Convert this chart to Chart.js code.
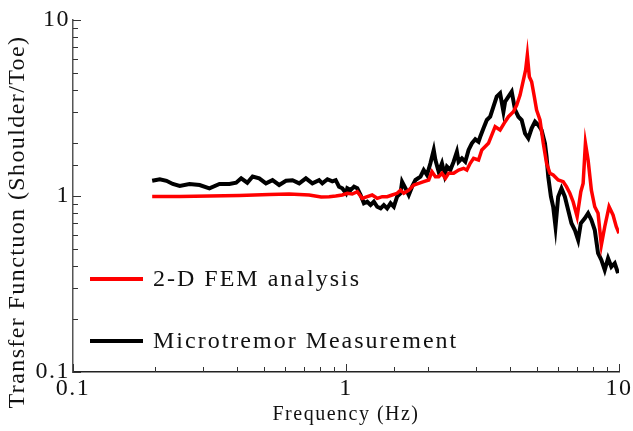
<!DOCTYPE html>
<html>
<head>
<meta charset="utf-8">
<script src="https://cdn.jsdelivr.net/npm/chart.js@4.4.1/dist/chart.umd.min.js"></script>
<style>
  html, body { margin: 0; padding: 0; background: #fff; }
  #wrap { width: 633px; height: 431px; }
</style>
</head>
<body>
<div id="wrap"><canvas id="myChart" width="633" height="431"></canvas></div>
<script>
const seriesNames = ['2-D FEM analysis', 'Microtremor Measurement'];
const majorTicks = [0.1, 1, 10];
const xTitle = 'Frequency (Hz)';
const yTitle = 'Transfer Functuon (Shoulder/Toe)';

// 2-D FEM analysis (red)
const freqFem = [0.195, 0.246, 0.316, 0.407, 0.524, 0.619, 0.733, 0.811, 0.867, 0.917, 0.969, 1.011, 1.054, 1.10,
  1.147, 1.196, 1.247, 1.301, 1.357, 1.415, 1.476, 1.539, 1.584, 1.628, 1.698, 1.771, 1.847, 1.926, 2.009,
  2.065, 2.126, 2.185, 2.246, 2.312, 2.376, 2.479, 2.585, 2.696, 2.771, 2.851, 2.933, 3.058, 3.144, 3.325,
  3.518, 3.669, 3.827, 3.935, 4.104, 4.220, 4.341, 4.464, 4.550, 4.616, 4.694, 4.786, 4.896, 4.991, 5.135,
  5.280, 5.429, 5.586, 5.741, 5.988, 6.245, 6.421, 6.607, 6.792, 7.025, 7.247, 7.389, 7.534, 7.706, 7.922,
  8.151, 8.381, 8.617, 8.867, 9.195, 9.508, 9.775, 10.0];
const tfFem = [0.994, 0.994, 1.0, 1.007, 1.02, 1.026, 1.013, 0.987, 0.991, 1.0, 1.013, 1.036, 1.026, 1.058,
  0.970, 0.991, 1.013, 0.970, 0.991, 0.991, 1.013, 1.036, 1.08, 1.036, 1.08, 1.155, 1.18, 1.206, 1.233,
  1.374, 1.287, 1.287, 1.346, 1.26, 1.346, 1.346, 1.405, 1.437, 1.405, 1.534, 1.637, 1.602, 1.826, 1.993,
  2.476, 2.371, 2.643, 2.822, 3.013, 3.289, 3.748, 4.561, 5.199, 6.325, 4.763, 4.461, 3.666, 3.081, 2.703,
  1.993, 1.534, 1.346, 1.316, 1.233, 1.206, 1.13, 1.036, 0.928, 0.763, 1.058, 1.18, 1.993, 1.602, 1.08,
  0.869, 0.798, 0.527, 0.669, 0.869, 0.78, 0.669, 0.614];

// Microtremor Measurement (black)
const freqMic = [0.195, 0.208, 0.220, 0.232, 0.246, 0.267, 0.291, 0.316, 0.344, 0.374, 0.396, 0.413, 0.435, 0.455,
  0.481, 0.509, 0.538, 0.569, 0.603, 0.637, 0.674, 0.713, 0.753, 0.797, 0.819, 0.855, 0.891, 0.917, 0.943,
  0.969, 1.0, 1.011, 1.040, 1.070, 1.10, 1.131, 1.163, 1.196, 1.230, 1.265, 1.301, 1.339, 1.376, 1.415,
  1.456, 1.497, 1.539, 1.584, 1.605, 1.652, 1.698, 1.746, 1.797, 1.874, 1.926, 1.980, 2.038, 2.096, 2.126,
  2.185, 2.246, 2.298, 2.343, 2.411, 2.479, 2.548, 2.585, 2.658, 2.735, 2.812, 2.891, 2.975, 3.058, 3.102,
  3.189, 3.280, 3.374, 3.468, 3.566, 3.669, 3.773, 3.827, 3.935, 4.046, 4.163, 4.280, 4.400, 4.527, 4.654,
  4.786, 4.924, 5.063, 5.204, 5.355, 5.429, 5.506, 5.632, 5.741, 5.854, 5.988, 6.156, 6.334, 6.513, 6.696,
  6.89, 7.085, 7.247, 7.495, 7.706, 7.922, 8.151, 8.381, 8.617, 8.867, 9.118, 9.374, 9.645, 9.917];
const tfMic = [1.22, 1.245, 1.22, 1.17, 1.14, 1.17, 1.155, 1.106, 1.17, 1.17, 1.19, 1.26, 1.19, 1.29,
  1.26, 1.18, 1.23, 1.155, 1.22, 1.23, 1.18, 1.26, 1.18, 1.23, 1.18, 1.245, 1.21, 1.23, 1.13,
  1.106, 1.036, 1.106, 1.08, 1.13, 1.106, 1.013, 0.909, 0.928, 0.889, 0.928, 0.869, 0.851, 0.889, 0.851,
  0.909, 0.869, 0.991, 1.036, 1.206, 1.106, 1.013, 1.13, 1.233, 1.287, 1.405, 1.316, 1.534, 1.826, 1.602,
  1.374, 1.534, 1.316, 1.468, 1.405, 1.566, 1.785, 1.566, 1.637, 1.566, 1.826, 1.993, 2.10, 2.035, 2.17,
  2.425, 2.703, 2.822, 3.217, 3.666, 3.832, 3.013, 3.435, 3.666, 3.914, 3.081, 2.822, 2.703, 2.27, 2.128,
  2.425, 2.643, 2.53, 2.371, 1.993, 1.672, 1.287, 0.991, 0.869, 0.669, 0.991, 1.106, 0.991, 0.833, 0.70,
  0.641, 0.562, 0.70, 0.747, 0.798, 0.731, 0.641, 0.473, 0.433, 0.380, 0.443, 0.396, 0.415, 0.364];

const serif = "'Liberation Serif', 'Times New Roman', serif";

function toPoints(xs, ys) {
    return xs.map(function (x, i) { return {x: x, y: ys[i]}; });
}
function isMajor(v) {
    return majorTicks.some(function (m) { return Math.abs(m - v) < 1e-9; });
}

// ticks drawn inward from the axis lines
const innerTicks = {
    id: 'innerTicks',
    afterDraw: function (chart) {
        const c = chart.ctx;
        const a = chart.chartArea;
        const xs = chart.scales.x, ys = chart.scales.y;
        c.save();
        c.strokeStyle = '#333';
        c.lineWidth = 1;
        xs.ticks.forEach(function (t) {
            const px = Math.round(xs.getPixelForValue(t.value)) + 0.5;
            const len = isMajor(t.value) ? 8 : 5;
            c.beginPath();
            c.moveTo(px, a.bottom);
            c.lineTo(px, a.bottom - len);
            c.stroke();
        });
        ys.ticks.forEach(function (t) {
            const py = Math.round(ys.getPixelForValue(t.value)) + 0.5;
            const len = isMajor(t.value) ? 8 : 5;
            c.beginPath();
            c.moveTo(a.left, py);
            c.lineTo(a.left + len, py);
            c.stroke();
        });
        c.restore();
    }
};

// legend inside the plot, lower left, plus the long y title
const insideLegend = {
    id: 'insideLegend',
    afterDraw: function (chart) {
        const c = chart.ctx;
        const rows = [279, 341];
        c.save();
        c.font = '24px ' + serif;
        c.letterSpacing = '2px';
        c.textBaseline = 'middle';
        chart.data.datasets.forEach(function (ds, i) {
            const y = rows[i];
            c.strokeStyle = ds.borderColor;
            c.lineWidth = 4;
            c.beginPath();
            c.moveTo(90, y);
            c.lineTo(143, y);
            c.stroke();
            c.fillStyle = '#111';
            c.fillText(ds.label, 153, y + 1);
        });
        c.restore();

        c.save();
        c.translate(18, 222);
        c.rotate(-Math.PI / 2);
        c.font = '24px ' + serif;
        c.letterSpacing = '1.4px';
        c.textAlign = 'center';
        c.textBaseline = 'middle';
        c.fillStyle = '#111';
        c.fillText(yTitle, 0, 0);
        c.restore();
    }
};

const spacing = {
    id: 'spacing',
    beforeDraw: function (chart) { chart.ctx.letterSpacing = '1.5px'; }
};

const ctx = document.getElementById('myChart');
const chart = new Chart(ctx, {
    type: 'scatter',
    data: {
        datasets: [{
            label: seriesNames[0],
            data: toPoints(freqFem, tfFem),
            borderColor: '#ff0000',
            backgroundColor: '#ff0000',
            borderWidth: 3.5,
            showLine: true,
            pointRadius: 0,
            tension: 0
        }, {
            label: seriesNames[1],
            data: toPoints(freqMic, tfMic),
            borderColor: '#000000',
            backgroundColor: '#000000',
            borderWidth: 4,
            showLine: true,
            pointRadius: 0,
            tension: 0
        }]
    },
    options: {
        responsive: false,
        animation: false,
        layout: { padding: { left: 0, right: 0, top: 20, bottom: 0 } },
        plugins: {
            legend: { display: false },
            tooltip: { enabled: false }
        },
        scales: {
            x: {
                type: 'logarithmic',
                min: 0.1,
                max: 10,
                afterFit: function (s) { s.height = 59; },
                grid: { display: false, drawTicks: false },
                border: { display: true, color: '#222', width: 1.5 },
                ticks: {
                    autoSkip: false,
                    maxRotation: 0,
                    padding: 2,
                    color: '#111',
                    font: { family: serif, size: 24 },
                    callback: function (v) { return isMajor(v) ? String(v) : ''; }
                },
                title: {
                    display: true,
                    text: xTitle,
                    color: '#111',
                    font: { family: serif, size: 20 },
                    padding: { top: 0, bottom: 4 }
                }
            },
            y: {
                type: 'logarithmic',
                min: 0.1,
                max: 10,
                afterFit: function (s) { s.width = 73; },
                grid: { display: false, drawTicks: false },
                border: { display: true, color: '#555', width: 1.5 },
                ticks: {
                    autoSkip: false,
                    padding: 3,
                    color: '#111',
                    font: { family: serif, size: 24 },
                    callback: function (v) { return isMajor(v) ? String(v) : ''; }
                },
                title: { display: false }
            }
        }
    },
    plugins: [spacing, innerTicks, insideLegend]
});
</script>
</body>
</html>
